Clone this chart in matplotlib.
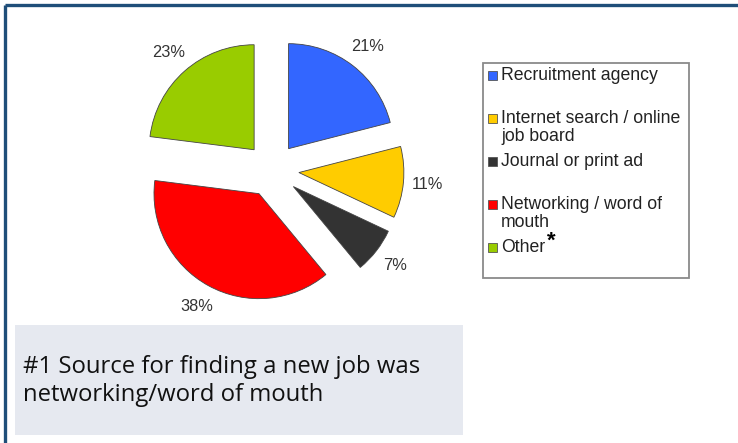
import matplotlib
matplotlib.use("Agg")
import matplotlib.pyplot as plt
from matplotlib.patches import Rectangle

categories = ["Recruitment agency", "Internet search / online\njob board",
              "Journal or print ad", "Networking / word of\nmouth", "Other"]
values = [21, 11, 7, 38, 23]
colors = ["#3366FF", "#FFCC00", "#333333", "#FF0000", "#99CC00"]
note_lines = ["#1 Source for finding a new job was", "networking/word of mouth"]

W, H = 738, 443
fig = plt.figure(figsize=(W / 100, H / 100), dpi=100)
ax = fig.add_axes([0, 0, 1, 1])


def Y(y):
    return H - y


# pie
wedges, texts, autotexts = ax.pie(
    values, colors=colors, startangle=90, counterclock=False,
    center=(272, Y(170)), radius=105, explode=[27] * len(values),
    autopct="%1.0f%%", pctdistance=1.23, frame=True,
    wedgeprops=dict(edgecolor="#444444", linewidth=0.6),
    textprops=dict(fontsize=11.8, color="#333333", family="Liberation Sans"))
ax.set_xlim(0, W)
ax.set_ylim(0, H)
ax.set_aspect("equal")
ax.axis("off")

# frame lines (top and left)
ax.plot([4.5, W], [Y(5), Y(5)], color="#1F4E79", lw=2.4, solid_capstyle="butt")
ax.plot([4.5, 4.5], [Y(5), 0], color="#1F4E79", lw=2.4, solid_capstyle="butt")

# legend box
ax.add_patch(Rectangle((483, Y(278)), 206, 215, facecolor="white",
                       edgecolor="#8a8a8a", lw=1.3))
for i, (name, c) in enumerate(zip(categories, colors)):
    yt = 75 + 43 * i
    ax.add_patch(Rectangle((488, Y(yt) - 4.5), 9, 9, facecolor=c,
                           edgecolor="#555555", lw=0.6))
    lines = name.split("\n")
    for j, ln in enumerate(lines):
        ax.text(501, Y(yt + 18 * j), ln, fontsize=12.7, color="#222222",
                family="Liberation Sans", va="center", ha="left")
    if name == "Other":
        ax.text(547, Y(yt - 6), "*", fontsize=16, color="black",
                family="Liberation Sans", va="center", ha="left", fontweight="bold")

# note box
ax.add_patch(Rectangle((15, Y(435)), 448, 110, facecolor="#E6E9F0", edgecolor="none"))
for j, ln in enumerate(note_lines):
    ax.text(23, Y(373 + 28 * j), ln, fontsize=17.2, color="#111111",
            family="Open Sans", va="baseline", ha="left")

fig.savefig("out.png", dpi=100, facecolor="white")
